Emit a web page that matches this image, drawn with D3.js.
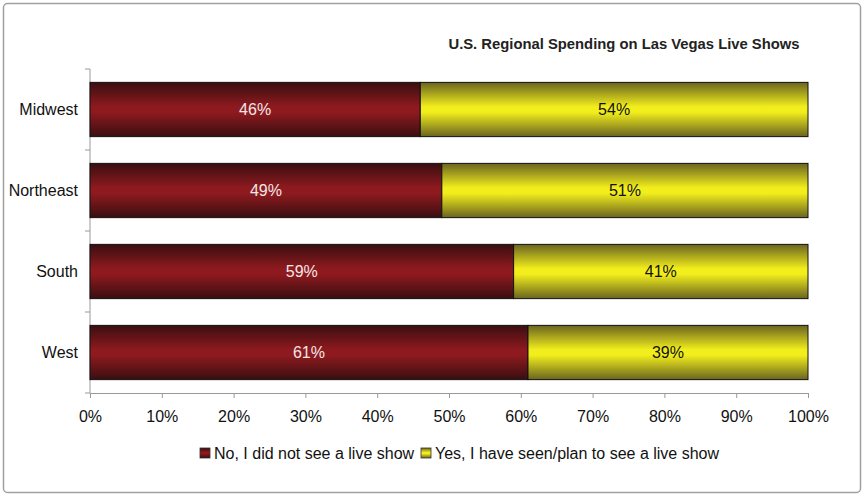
<!DOCTYPE html>
<html><head><meta charset="utf-8">
<script src="https://cdn.jsdelivr.net/npm/d3@7"></script>
<style>body{margin:0;background:#fff}svg{display:block;font-family:"Liberation Sans",Arial,sans-serif}</style>
</head><body><svg id="c" width="864" height="497"></svg>
<script>
const categories = ["Midwest", "Northeast", "South", "West"];
const noValues = [46, 49, 59, 61];
const yesValues = [54, 51, 41, 39];
const seriesNames = ["No, I did not see a live show", "Yes, I have seen/plan to see a live show"];
const xTicks = [0,10,20,30,40,50,60,70,80,90,100];
const title = "U.S. Regional Spending on Las Vegas Live Shows";

const svg = d3.select("#c");
const defs = svg.append("defs");
function grad(id, edge, mid){
  const g = defs.append("linearGradient").attr("id", id).attr("x1",0).attr("y1",0).attr("x2",0).attr("y2",1);
  [[0,edge],[0.45,mid],[0.55,mid],[1,edge]].forEach(([o,c])=>g.append("stop").attr("offset",o).attr("stop-color",c));
}
grad("gRed", "#3a0e10", "#8e1a1f");
grad("gYel", "#6a6420", "#f2ee1c");

svg.append("rect").attr("x",3.5).attr("y",3.5).attr("width",857).attr("height",489).attr("rx",4)
  .attr("fill","#fff").attr("stroke","#a0a0a0").attr("stroke-width",1.5);

const pL = 90, pR = 808, pT = 69, pB = 393;
const FS = 16;
const x = d3.scaleLinear().domain([0,100]).range([pL,pR]);
const y = d3.scaleBand().domain(categories).range([pT,pB]).paddingInner(0.33).paddingOuter(0.165);

svg.append("text").attr("x",624).attr("y",49).attr("text-anchor","middle")
  .attr("font-weight","bold").attr("font-size",14.8).attr("fill","#222").text(title);

// axes
const xAxis = svg.append("g").attr("transform",`translate(0,${pB})`)
  .call(d3.axisBottom(x).tickValues(xTicks).tickFormat(d=>d+"%").tickSize(5).tickSizeOuter(0));
xAxis.select(".domain").attr("stroke","#999");
xAxis.selectAll(".tick line").attr("stroke","#999");
xAxis.selectAll("text").attr("font-size",FS).attr("fill","#111").attr("y",18).attr("dy","0.71em").attr("font-family","Liberation Sans, Arial, sans-serif");

const yTickScale = d3.scaleLinear().domain([0,categories.length]).range([pT,pB]);
const yAxis = svg.append("g");
yAxis.append("line").attr("x1",pL).attr("x2",pL).attr("y1",pT).attr("y2",pB).attr("stroke","#999");
yAxis.selectAll("line.t").data(d3.range(categories.length+1)).join("line").attr("class","t")
  .attr("x1",pL-5).attr("x2",pL).attr("y1",d=>yTickScale(d)).attr("y2",d=>yTickScale(d)).attr("stroke","#999");
svg.selectAll("text.cat").data(categories).join("text").attr("class","cat")
  .attr("x",pL-12).attr("y",d=>y(d)+y.bandwidth()/2).attr("dy","0.35em").attr("text-anchor","end")
  .attr("font-size",FS).attr("fill","#111").text(d=>d);

// bars
const rows = categories.map((c,i)=>({c, no:noValues[i], yes:yesValues[i]}));
const g = svg.append("g");
g.selectAll("rect.no").data(rows).join("rect").attr("class","no")
  .attr("x",x(0)).attr("y",d=>y(d.c)).attr("width",d=>x(d.no)-x(0)).attr("height",y.bandwidth())
  .attr("fill","url(#gRed)").attr("stroke","#111").attr("stroke-width",1);
g.selectAll("rect.yes").data(rows).join("rect").attr("class","yes")
  .attr("x",d=>x(d.no)).attr("y",d=>y(d.c)).attr("width",d=>x(d.no+d.yes)-x(d.no)).attr("height",y.bandwidth())
  .attr("fill","url(#gYel)").attr("stroke","#111").attr("stroke-width",1);
g.selectAll("text.nol").data(rows).join("text").attr("class","nol")
  .attr("x",d=>x(d.no/2)).attr("y",d=>y(d.c)+y.bandwidth()/2).attr("dy","0.35em").attr("text-anchor","middle")
  .attr("font-size",FS).attr("fill","#f3e6e6").text(d=>d.no+"%");
g.selectAll("text.yesl").data(rows).join("text").attr("class","yesl")
  .attr("x",d=>x(d.no+d.yes/2)).attr("y",d=>y(d.c)+y.bandwidth()/2).attr("dy","0.35em").attr("text-anchor","middle")
  .attr("font-size",FS).attr("fill","#111").text(d=>d.yes+"%");

// legend
const legX = [200, 421];
const fills = ["url(#gRed)","url(#gYel)"];
seriesNames.forEach((n,i)=>{
  svg.append("rect").attr("x",legX[i]).attr("y",448).attr("width",10).attr("height",10)
    .attr("fill",fills[i]).attr("stroke","#333").attr("stroke-width",0.8);
  svg.append("text").attr("x",legX[i]+14).attr("y",453).attr("dy","0.35em").attr("font-size",FS).attr("fill","#111").text(n);
});
</script></body></html>
